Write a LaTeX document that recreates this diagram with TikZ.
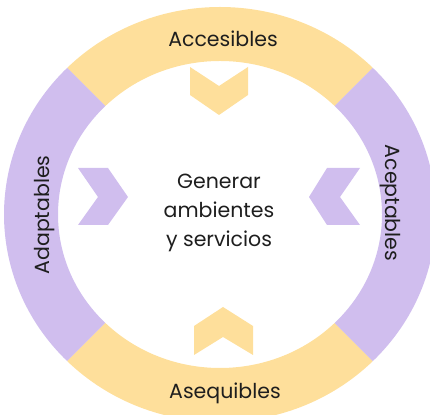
\documentclass[tikz,border=0pt]{standalone}
\usepackage{fontspec}
\setmainfont{Poppins}
\usetikzlibrary{calc}
\definecolor{ringyellow}{HTML}{FEDF9B}
\definecolor{ringpurple}{HTML}{D0BEEE}
\definecolor{txt}{HTML}{1E1E1E}
\tikzset{
  lbl/.style={font=\fontsize{20.5}{29}\selectfont, text=txt, inner sep=0pt},
}
\begin{document}
\begin{tikzpicture}[x=1pt,y=1pt]
\useasboundingbox (0,0) rectangle (430,414);
\coordinate (c) at (220,199.5);
% ring segments
\fill[ringyellow] ($(c)+(45:216 and 207.5)$) arc[start angle=45,end angle=135,x radius=216,y radius=207.5]
  -- ($(c)+(135:162 and 153.5)$) arc[start angle=135,end angle=45,x radius=162,y radius=153.5] -- cycle;
\fill[ringpurple] ($(c)+(135:216 and 207.5)$) arc[start angle=135,end angle=225,x radius=216,y radius=207.5]
  -- ($(c)+(225:162 and 153.5)$) arc[start angle=225,end angle=135,x radius=162,y radius=153.5] -- cycle;
\fill[ringyellow] ($(c)+(225:216 and 207.5)$) arc[start angle=225,end angle=315,x radius=216,y radius=207.5]
  -- ($(c)+(315:162 and 153.5)$) arc[start angle=315,end angle=225,x radius=162,y radius=153.5] -- cycle;
\fill[ringpurple] ($(c)+(-45:216 and 207.5)$) arc[start angle=-45,end angle=45,x radius=216,y radius=207.5]
  -- ($(c)+(45:162 and 153.5)$) arc[start angle=45,end angle=-45,x radius=162,y radius=153.5] -- cycle;
% chevrons
\fill[ringyellow] (190,347) -- (219,328) -- (248,347) -- (248,319) -- (219,299) -- (190,319) -- cycle;
\fill[ringyellow] (194,88) -- (223,107) -- (253,88) -- (253,59) -- (223,77) -- (194,59) -- cycle;
\fill[ringpurple] (78,246) -- (108,246) -- (128,217) -- (108,189) -- (78,189) -- (98,217) -- cycle;
\fill[ringpurple] (309,217) -- (327,246) -- (360,246) -- (340,217) -- (360,189) -- (327,189) -- cycle;
% labels
\node[lbl, anchor=base] (acc) at (223,367) {Accesibles};
\node[lbl, anchor=base] (ase) at (225,16) {Asequibles};
\node[lbl, anchor=base, rotate=90] (ada) at (49,199) {Adaptables};
\node[lbl, anchor=base, rotate=-90] (ace) at (385,211) {Aceptables};
\node[lbl, anchor=base] (g1) at (219,225) {Generar};
\node[lbl, anchor=base] (g2) at (219,196) {ambientes};
\node[lbl, anchor=base] (g3) at (219,167) {y servicios};
\end{tikzpicture}
\end{document}
